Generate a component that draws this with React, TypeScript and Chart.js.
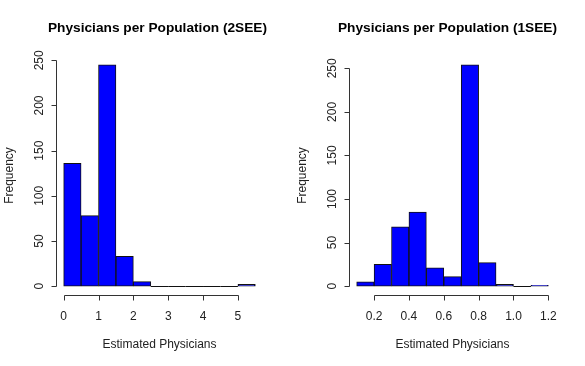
import React, { useEffect, useRef } from "react";
import { Chart, registerables } from "chart.js";

Chart.register(...registerables);

// ---- data ----
const leftTitle = "Physicians per Population (2SEE)";
const leftBinStart = 0;
const leftBinWidth = 0.5;
const leftCounts = [136, 78, 245, 33, 5, 0, 0, 0, 0, 0, 2];
const leftXTicks = [0, 1, 2, 3, 4, 5];
const leftXTickLabels = ["0", "1", "2", "3", "4", "5"];
const leftYTicks = [0, 50, 100, 150, 200, 250];

const rightTitle = "Physicians per Population (1SEE)";
const rightBinStart = 0.1;
const rightBinWidth = 0.1;
const rightCounts = [5, 25, 68, 85, 21, 11, 254, 27, 2, 0, 1];
const rightXTicks = [0.2, 0.4, 0.6, 0.8, 1.0, 1.2];
const rightXTickLabels = ["0.2", "0.4", "0.6", "0.8", "1.0", "1.2"];
const rightYTicks = [0, 50, 100, 150, 200, 250];

const xAxisLabel = "Estimated Physicians";
const yAxisLabel = "Frequency";

const FONT = "'Liberation Sans', Arial, sans-serif";
const TEXT = "#222";
const AXIS = "#333";

type HistProps = {
  title: string;
  titleShift: number;
  binStart: number;
  binWidth: number;
  counts: number[];
  xTicks: number[];
  xTickLabels: string[];
  yTicks: number[];
  width: number;
  height: number;
  pad: { left: number; right: number; top: number; bottom: number };
};

function Histogram(p: HistProps) {
  const ref = useRef<HTMLCanvasElement | null>(null);
  useEffect(() => {
    const canvas = ref.current;
    if (!canvas) return;
    const n = p.counts.length;
    const xLo = p.binStart;
    const xHi = p.binStart + n * p.binWidth;
    const xExt = (xHi - xLo) * 0.04;
    const yMax = Math.max(...p.counts);
    const yExt = yMax * 0.04;
    const points = p.counts.map((c, i) => ({ x: p.binStart + (i + 0.5) * p.binWidth, y: c }));

    const rAxes = {
      id: "rAxes",
      afterDatasetsDraw(chart: any) {
        const ctx = chart.ctx;
        const meta = chart.getDatasetMeta(0);
        ctx.save();
        ctx.strokeStyle = "#111";
        ctx.lineWidth = 1;
        meta.data.forEach((el: any, i: number) => {
          if (p.counts[i] === 0) {
            const props = el.getProps(["x", "base", "width"], true);
            const yy = Math.round(props.base) + 0.5;
            ctx.beginPath();
            ctx.moveTo(props.x - props.width / 2, yy);
            ctx.lineTo(props.x + props.width / 2, yy);
            ctx.stroke();
          }
        });
        ctx.restore();
      },
      afterDraw(chart: any) {
        const ctx = chart.ctx;
        const xs = chart.scales.x;
        const ys = chart.scales.y;
        const area = chart.chartArea;
        ctx.save();
        ctx.strokeStyle = AXIS;
        ctx.fillStyle = TEXT;
        ctx.lineWidth = 1;
        // y axis
        const ax = Math.round(area.left) + 0.5;
        const y0 = ys.getPixelForValue(p.yTicks[0]);
        const y1 = ys.getPixelForValue(p.yTicks[p.yTicks.length - 1]);
        ctx.beginPath();
        ctx.moveTo(ax, Math.round(y0) + 0.5);
        ctx.lineTo(ax, Math.round(y1) + 0.5);
        p.yTicks.forEach((t) => {
          const yy = Math.round(ys.getPixelForValue(t)) + 0.5;
          ctx.moveTo(ax, yy);
          ctx.lineTo(ax - 5, yy);
        });
        ctx.stroke();
        ctx.font = `12px ${FONT}`;
        ctx.textAlign = "center";
        ctx.textBaseline = "middle";
        p.yTicks.forEach((t) => {
          const yy = ys.getPixelForValue(t);
          ctx.save();
          ctx.translate(ax - 17, yy);
          ctx.rotate(-Math.PI / 2);
          ctx.fillText(String(t), 0, 0);
          ctx.restore();
        });
        // x axis
        const ay = Math.round(area.bottom) + 0.5;
        const xa = xs.getPixelForValue(p.xTicks[0]);
        const xb = xs.getPixelForValue(p.xTicks[p.xTicks.length - 1]);
        ctx.beginPath();
        ctx.moveTo(Math.round(xa) + 0.5, ay);
        ctx.lineTo(Math.round(xb) + 0.5, ay);
        p.xTicks.forEach((t) => {
          const xx = Math.round(xs.getPixelForValue(t)) + 0.5;
          ctx.moveTo(xx, ay);
          ctx.lineTo(xx, ay + 5);
        });
        ctx.stroke();
        p.xTicks.forEach((t, i) => {
          ctx.fillText(p.xTickLabels[i], xs.getPixelForValue(t), ay + 21);
        });
        // axis labels
        const cx = (area.left + area.right) / 2;
        const cy = (area.top + area.bottom) / 2;
        ctx.fillText(xAxisLabel, cx, ay + 49);
        ctx.save();
        ctx.translate(area.left - 46, cy);
        ctx.rotate(-Math.PI / 2);
        ctx.fillText(yAxisLabel, 0, 0);
        ctx.restore();
        // title
        ctx.fillStyle = "#000";
        ctx.font = `bold 13.7px ${FONT}`;
        ctx.fillText(p.title, cx + p.titleShift, 28);
        ctx.restore();
      },
    };

    const chart = new Chart(canvas, {
      type: "bar",
      data: {
        datasets: [
          {
            data: points as any,
            backgroundColor: "#0000FF",
            borderColor: "#111",
            borderWidth: 1,
            borderSkipped: false,
            barPercentage: 1,
            categoryPercentage: 1,
          },
        ],
      },
      options: {
        responsive: false,
        animation: false,
        maintainAspectRatio: false,
        layout: { padding: p.pad },
        plugins: { legend: { display: false }, tooltip: { enabled: false }, title: { display: false } },
        scales: {
          x: { type: "linear", min: xLo - xExt, max: xHi + xExt, display: false, offset: false },
          y: { type: "linear", min: -yExt, max: yMax + yExt, display: false },
        },
      },
      plugins: [rAxes],
    });
    return () => chart.destroy();
  }, []);
  return (
    <canvas
      ref={ref}
      width={p.width}
      height={p.height}
      style={{ width: p.width, height: p.height, display: "block" }}
    />
  );
}

export default function App() {
  return (
    <div style={{ position: "fixed", left: 0, top: 0, width: 585, height: 366, background: "#fff" }}>
      <div style={{ position: "absolute", left: 0, top: 0 }}>
        <Histogram
          title={leftTitle}
          titleShift={-2}
          binStart={leftBinStart}
          binWidth={leftBinWidth}
          counts={leftCounts}
          xTicks={leftXTicks}
          xTickLabels={leftXTickLabels}
          yTicks={leftYTicks}
          width={292}
          height={366}
          pad={{ left: 56, right: 29, top: 56, bottom: 71 }}
        />
      </div>
      <div style={{ position: "absolute", left: 292, top: 0 }}>
        <Histogram
          title={rightTitle}
          titleShift={-5}
          binStart={rightBinStart}
          binWidth={rightBinWidth}
          counts={rightCounts}
          xTicks={rightXTicks}
          xTickLabels={rightXTickLabels}
          yTicks={rightYTicks}
          width={293}
          height={366}
          pad={{ left: 57, right: 29, top: 56, bottom: 71 }}
        />
      </div>
    </div>
  );
}
